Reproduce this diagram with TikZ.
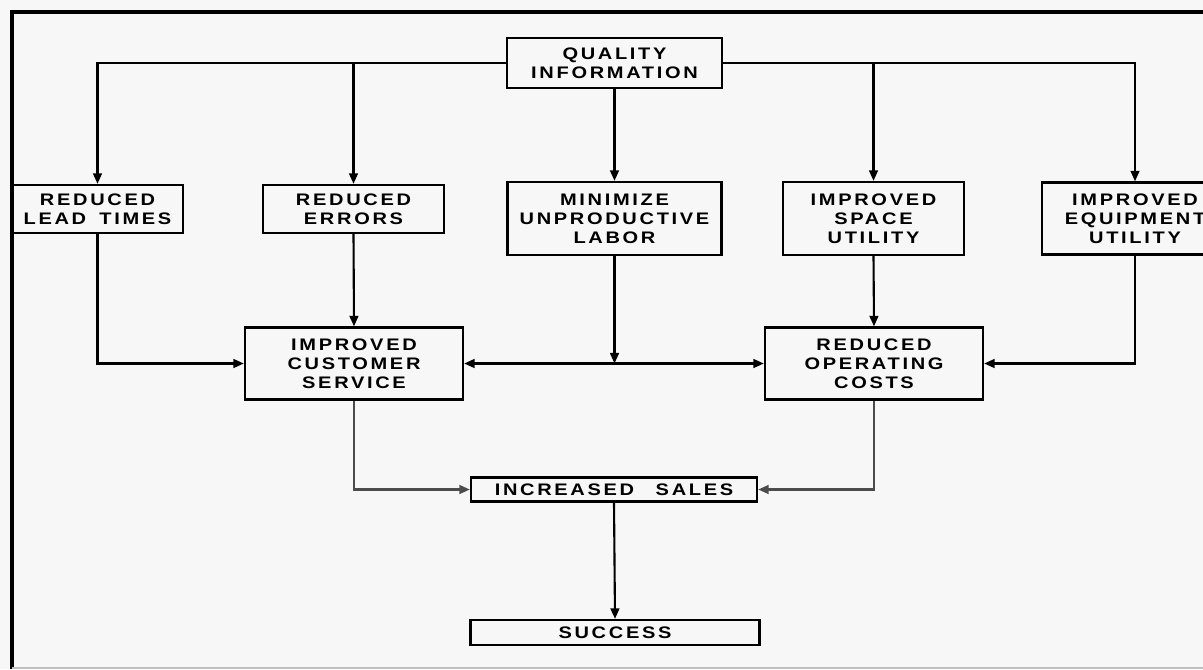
\documentclass[tikz,border=0pt]{standalone}
\usepackage{fontspec}
\newfontfamily\leroy[FakeStretch=1.2,LetterSpace=16]{Liberation Sans}
\usetikzlibrary{arrows.meta}
\tikzset{
	box/.style={draw, line width=1.3pt, inner sep=0pt, align=center,
		font={\leroy\bfseries\fontsize{9.5pt}{10.8pt}\selectfont}},
	flow/.style={line width=1.2pt, -{Triangle[length=6pt,width=5pt]}}
}

\begin{document}
\begin{tikzpicture}[x=0.2mm, y=-0.2mm]
			%%%%% START %%%%%
			
			\useasboundingbox[fill=black!3] (0, 0) rectangle (1203, 669);
			
			\draw[line width=1.8pt] (12, 669) -- (12, 12) -- (1203, 12);
			\draw[line width=0.6pt, color=black!25] (12, 668) -- (1203, 668);
			
			\node[box, minimum width=43mm, minimum height=10mm] (qual) at (614.5, 63) {QUALITY\\INFORMATION};
			
			\node[box, minimum width=34.2mm, minimum height=9.6mm] (lead) at (97.5, 209) {REDUCED\\LEAD\hspace{0.3em} TIMES};
			\node[box, minimum width=36.2mm, minimum height=9.6mm] (errors) at (353.5, 209) {REDUCED\\ERRORS};
			\node[box, minimum width=42.8mm, minimum height=14.6mm] (labor) at (614.5, 218.5) {MINIMIZE\\UNPRODUCTIVE\\LABOR};
			\node[box, minimum width=36.2mm, minimum height=14.6mm] (space) at (873.5, 218.5) {IMPROVED\\SPACE\\UTILITY};
			\node[box, minimum width=37.2mm, minimum height=14.4mm] (equip) at (1135, 218.5) {IMPROVED\\EQUIPMENT\\UTILITY};
			
			\node[box, minimum width=43.6mm, minimum height=14.4mm] (service) at (354, 363.5) {IMPROVED\\CUSTOMER\\SERVICE};
			\node[box, minimum width=43.6mm, minimum height=14.4mm] (costs) at (874, 363.5) {REDUCED\\OPERATING\\COSTS};
			
			\node[box, minimum width=57.2mm, minimum height=4.8mm] (sales) at (614, 489.5) {INCREASED\hspace{0.8em} SALES};
			\node[box, minimum width=57.8mm, minimum height=5mm] (success) at (615, 632.5) {SUCCESS};
			
			\draw[flow] (qual.west) -| (lead.north);
			\draw[flow] (qual.west) -| (errors.north);
			\draw[flow] (qual.south) -- (labor.north);
			\draw[flow] (qual.east) -| (space.north);
			\draw[flow] (qual.east) -| (equip.north);
			
			\draw[flow] (lead.south) |- (service.west);
			\draw[flow] (errors.south) -- (service.north);
			\coordinate (joint) at (labor.south |- service.east);
			\draw[flow] (labor.south) -- (joint);
			\draw[flow] (joint) -- (service.east);
			\draw[flow] (joint) -- (costs.west);
			\draw[flow] (space.south) -- (costs.north);
			\draw[flow] (equip.south) |- (costs.east);
			
			\draw[flow, color=black!70] (service.south) |- (sales.west);
			\draw[flow, color=black!70] (costs.south) |- (sales.east);
			\draw[flow] (sales.south) -- (success.north);
			
			%%%%% END %%%%%
		\end{tikzpicture}
\end{document}
